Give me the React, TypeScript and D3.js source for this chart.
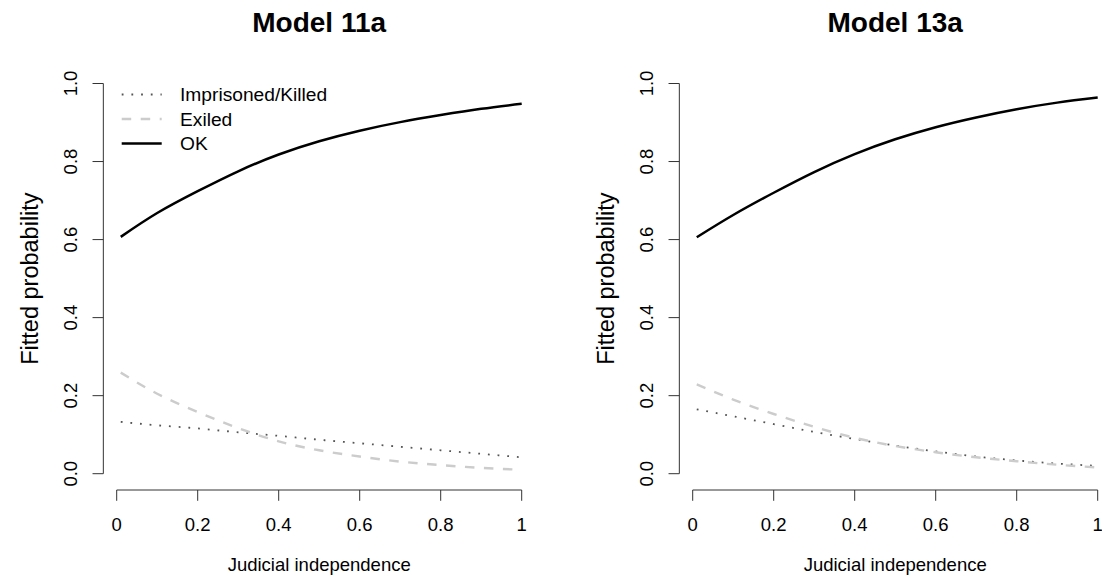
import React from "react";
import * as d3 from "d3";

// Judicial independence grid the fitted probabilities are evaluated on
const X_VALUES = [0.01, 0.1, 0.2, 0.3, 0.4, 0.5, 0.6, 0.7, 0.8, 0.9, 1.0];

// Model 11a fitted probabilities
const M11A_IMPRISONED = [0.133, 0.124, 0.116, 0.106, 0.097, 0.087, 0.078, 0.069, 0.06, 0.051, 0.042];
const M11A_EXILED = [0.259, 0.205, 0.158, 0.117, 0.083, 0.06, 0.044, 0.031, 0.022, 0.015, 0.01];
const M11A_OK = [0.607, 0.668, 0.724, 0.775, 0.818, 0.852, 0.879, 0.901, 0.919, 0.935, 0.948];

// Model 13a fitted probabilities
const M13A_IMPRISONED = [0.165, 0.147, 0.127, 0.107, 0.089, 0.072, 0.057, 0.044, 0.034, 0.026, 0.02];
const M13A_EXILED = [0.229, 0.19, 0.153, 0.12, 0.092, 0.071, 0.055, 0.042, 0.032, 0.023, 0.016];
const M13A_OK = [0.606, 0.663, 0.72, 0.773, 0.819, 0.857, 0.888, 0.913, 0.934, 0.951, 0.964];

const Y_TICKS = [0, 0.2, 0.4, 0.6, 0.8, 1.0];
const Y_TICK_LABELS = ["0.0", "0.2", "0.4", "0.6", "0.8", "1.0"];
const X_TICKS = [0, 0.2, 0.4, 0.6, 0.8, 1.0];
const X_TICK_LABELS = ["0", "0.2", "0.4", "0.6", "0.8", "1"];

const LEGEND_LABELS = ["Imprisoned/Killed", "Exiled", "OK"];
const PANEL_TITLES = ["Model 11a", "Model 13a"];
const X_LABEL = "Judicial independence";
const Y_LABEL = "Fitted probability";

const FONT = "'Liberation Sans', Arial, Helvetica, sans-serif";
const FS = 18.5;

const STYLES = {
  imprisoned: { stroke: "#555555", width: 1.8, dash: "1.8 7.9", cap: "butt" as const },
  exiled: { stroke: "#cccccc", width: 2.4, dash: "9.5 9.5", cap: "butt" as const },
  ok: { stroke: "#000000", width: 2.5, dash: undefined as string | undefined, cap: "butt" as const },
};

type PanelProps = {
  title: string;
  offset: number;
  imprisoned: number[];
  exiled: number[];
  ok: number[];
  legend: boolean;
};

function Panel({ title, offset, imprisoned, exiled, ok, legend }: PanelProps) {
  const x = d3.scaleLinear().domain([0, 1]).range([116.7 + offset, 521.7 + offset]);
  const y = d3.scaleLinear().domain([0, 1]).range([473.7, 83.5]);
  const axisX = x(-0.033);
  const axisY = 490;
  const tick = 10.8;

  const line = d3
    .line<number>()
    .x((_, i) => x(X_VALUES[i]))
    .y((d) => y(d))
    .curve(d3.curveNatural);

  const series = [
    { key: "imprisoned", values: imprisoned, st: STYLES.imprisoned },
    { key: "exiled", values: exiled, st: STYLES.exiled },
    { key: "ok", values: ok, st: STYLES.ok },
  ];

  const cx = (x(0) + x(1)) / 2;
  const cy = (y(0) + y(1)) / 2;

  return (
    <g>
      <text x={cx} y={32} textAnchor="middle" fontFamily={FONT} fontWeight="bold" fontSize={28}>
        {title}
      </text>

      {series.map((s) => (
        <path
          key={s.key}
          d={line(s.values) || ""}
          fill="none"
          stroke={s.st.stroke}
          strokeWidth={s.st.width}
          strokeDasharray={s.st.dash}
          strokeLinecap={s.st.cap}
        />
      ))}

      {/* y axis */}
      <line x1={axisX} x2={axisX} y1={y(0)} y2={y(1)} stroke="#333" strokeWidth={1} />
      {Y_TICKS.map((t, i) => (
        <g key={"yt" + i}>
          <line x1={axisX - tick} x2={axisX} y1={y(t)} y2={y(t)} stroke="#333" strokeWidth={1} />
          <text
            transform={`translate(${axisX - 26.5},${y(t)}) rotate(-90)`}
            textAnchor="middle"
            fontFamily={FONT}
            fontSize={FS}
          >
            {Y_TICK_LABELS[i]}
          </text>
        </g>
      ))}

      {/* x axis */}
      <line x1={x(0)} x2={x(1)} y1={axisY} y2={axisY} stroke="#333" strokeWidth={1} />
      {X_TICKS.map((t, i) => (
        <g key={"xt" + i}>
          <line x1={x(t)} x2={x(t)} y1={axisY} y2={axisY + tick} stroke="#333" strokeWidth={1} />
          <text x={x(t)} y={530.5} textAnchor="middle" fontFamily={FONT} fontSize={FS}>
            {X_TICK_LABELS[i]}
          </text>
        </g>
      ))}

      <text x={cx} y={571} textAnchor="middle" fontFamily={FONT} fontSize={FS}>
        {X_LABEL}
      </text>
      <text
        transform={`translate(${axisX - 65},${cy}) rotate(-90)`}
        textAnchor="middle"
        fontFamily={FONT}
        fontSize={23.5}
      >
        {Y_LABEL}
      </text>

      {legend &&
        series.map((s, i) => {
          const ly = 94.5 + i * 24.5;
          return (
            <g key={"lg" + i}>
              <line
                x1={x(0) + 5}
                x2={x(0) + 45}
                y1={ly}
                y2={ly}
                stroke={s.st.stroke}
                strokeWidth={s.st.width}
                strokeDasharray={s.st.dash}
                strokeLinecap={s.st.cap}
              />
              <text x={x(0) + 63.3} y={ly} dy="0.35em" fontFamily={FONT} fontSize={19.2}>
                {LEGEND_LABELS[i]}
              </text>
            </g>
          );
        })}
    </g>
  );
}

export default function App() {
  return (
    <svg
      width={1102}
      height={582}
      style={{ position: "absolute", left: 0, top: 0, background: "#fff" }}
    >
      <rect width={1102} height={582} fill="#fff" />
      <Panel
        title={PANEL_TITLES[0]}
        offset={0}
        imprisoned={M11A_IMPRISONED}
        exiled={M11A_EXILED}
        ok={M11A_OK}
        legend={true}
      />
      <Panel
        title={PANEL_TITLES[1]}
        offset={576}
        imprisoned={M13A_IMPRISONED}
        exiled={M13A_EXILED}
        ok={M13A_OK}
        legend={false}
      />
    </svg>
  );
}
